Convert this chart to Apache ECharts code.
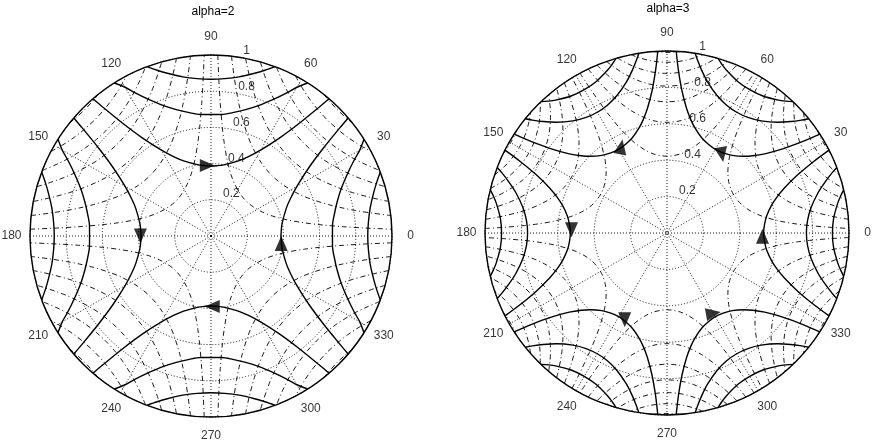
<!DOCTYPE html>
<html>
<head>
<meta charset="utf-8">
<script src="https://cdn.jsdelivr.net/npm/echarts@6/dist/echarts.min.js"></script>
<style>
  html, body { margin: 0; padding: 0; background: #fff; }
  #main { width: 874px; height: 446px; }
</style>
</head>
<body>
<div id="main"></div>
<script>
// polar grid ticks
var angleTicks = [0, 30, 60, 90, 120, 150, 180, 210, 240, 270, 300, 330];
var ringTicks = [0.2, 0.4, 0.6, 0.8, 1];

// alpha=2, solid curves, half branch read from vertex (angle 0) out to the rim: [r, angle]
var a2Solid1 = [[0.387,0],[0.390,5],[0.399,10],[0.442,20],[0.483,25],[0.548,30],[0.662,35],[0.787,38],[0.929,40],[1,40.7]];
var a2Solid2 = [[0.671,0],[0.674,5],[0.692,10],[0.721,15],[0.766,20],[0.837,25],[0.897,28],[0.949,30],[1,32.3]];
var a2Solid3 = [[0.866,0],[0.873,5],[0.893,10],[0.931,15],[0.963,18],[1,20.7]];

// alpha=2, dash-dot curves, half branch from vertex (angle 45) out to the rim
var a2Dash1 = [[0.274,45],[0.276,40],[0.283,35],[0.313,25],[0.357,18],[0.429,12],[0.522,8],[0.601,6],[0.734,4],[0.847,3],[1,2.15]];
var a2Dash2 = [[0.474,45],[0.489,35],[0.542,25],[0.592,20],[0.671,15],[0.744,12],[0.811,10],[0.904,8],[1,6.5]];
var a2Dash3 = [[0.612,45],[0.632,35],[0.658,30],[0.700,25],[0.764,20],[0.819,17],[0.894,14],[0.960,12],[1,11]];
var a2Dash4 = [[0.725,45],[0.747,35],[0.779,30],[0.828,25],[0.869,22],[0.904,20],[0.945,18],[0.969,17],[1,15.8]];
var a2Dash5 = [[0.822,45],[0.828,40],[0.848,35],[0.883,30],[0.902,28],[0.939,25],[0.986,22],[1,21.2]];
var a2Dash6 = [[0.908,45],[0.915,40],[0.931,36],[0.950,33],[0.976,30],[0.998,28],[1,27.8]];
var a2Dash7 = [[0.987,45],[0.990,42],[0.995,40],[1,38.6]];

// alpha=3, solid curves, half branch from vertex (angle 0)
var a3Solid1 = [[0.531,0],[0.538,5],[0.557,10],[0.596,15],[0.634,18],[0.691,21],[0.786,24],[0.897,26],[1,27.1]];
var a3Solid2 = [[0.766,0],[0.775,5],[0.804,10],[0.860,15],[0.915,18],[0.965,20],[1,21.1]];
var a3Solid3 = [[0.909,0],[0.919,5],[0.953,10],[0.975,12],[1,13.8]];

// alpha=3, dash-dot curves, half branch from vertex (angle 30)
var a3Dash1 = [[0.422,30],[0.427,25],[0.442,20],[0.473,15],[0.531,10],[0.624,6],[0.712,4],[0.783,3],[0.895,2],[1,1.43]];
var a3Dash2 = [[0.608,30],[0.615,25],[0.638,20],[0.696,14],[0.766,10],[0.821,8],[0.900,6],[0.954,5],[1,4.33]];
var a3Dash3 = [[0.721,30],[0.729,25],[0.756,20],[0.809,15],[0.861,12],[0.909,10],[0.973,8],[1,7.34]];
var a3Dash4 = [[0.807,30],[0.816,25],[0.846,20],[0.891,16],[0.922,14],[0.963,12],[1,10.56]];
var a3Dash5 = [[0.877,30],[0.887,25],[0.920,20],[0.954,17],[0.985,15],[1,14.15]];
var a3Dash6 = [[0.938,30],[0.942,27],[0.954,24],[0.975,21],[0.995,19],[1,18.53]];
var a3Dash7 = [[0.992,30],[0.996,27],[1,25.72]];

// direction arrows: [r, angle, rotation of the triangle]
var a2Arrows = [[0.39,93,-90],[0.39,-6,0],[0.39,180,180],[0.39,271,90]];
var a3Arrows = [[0.525,-2,0],[0.526,55,190],[0.536,118,-10],[0.525,178,180],[0.53,244,180],[0.51,300,-80]];

var FONT = 'Liberation Sans';

// whole branch = half mirrored about its vertex angle m, then turned by rot
function branch(half, m, rot) {
    var back = half.slice().reverse().map(function (p) { return [p[0], 2 * m - p[1] + rot]; });
    var fwd = half.slice(1).map(function (p) { return [p[0], p[1] + rot]; });
    return back.concat(fwd);
}

var series = [];
function addFamily(polarIndex, halves, m, step, count, dashed) {
    halves.forEach(function (h) {
        for (var k = 0; k < count; k++) {
            series.push({
                type: 'line',
                coordinateSystem: 'polar',
                polarIndex: polarIndex,
                data: branch(h, m, k * step),
                showSymbol: false,
                smooth: 0.3,
                silent: true,
                z: dashed ? 3 : 4,
                lineStyle: dashed
                    ? { color: '#000', width: 0.9, type: [5, 3, 1, 3] }
                    : { color: '#000', width: 1.4 }
            });
        }
    });
}
addFamily(0, [a2Dash1, a2Dash2, a2Dash3, a2Dash4, a2Dash5, a2Dash6, a2Dash7], 45, 90, 4, true);
addFamily(0, [a2Solid1, a2Solid2, a2Solid3], 0, 90, 4, false);
addFamily(1, [a3Dash1, a3Dash2, a3Dash3, a3Dash4, a3Dash5, a3Dash6, a3Dash7], 30, 60, 6, true);
addFamily(1, [a3Solid1, a3Solid2, a3Solid3], 0, 60, 6, false);

[a2Arrows, a3Arrows].forEach(function (arr, i) {
    series.push({
        type: 'scatter',
        coordinateSystem: 'polar',
        polarIndex: i,
        symbol: 'triangle',
        symbolSize: [13, 15],
        itemStyle: { color: '#000' },
        z: 6,
        data: arr.map(function (a) { return { value: [a[0], a[1]], symbolRotate: a[2] }; })
    });
    // ring labels, at 82 degrees as the polar plot puts them
    series.push({
        type: 'scatter',
        coordinateSystem: 'polar',
        polarIndex: i,
        symbolSize: 0,
        z: 7,
        data: ringTicks.map(function (r) { return [r, 82]; }),
        label: {
            show: true,
            position: 'right',
            distance: 7,
            offset: [0, -6],
            color: '#000',
            fontSize: 12,
            fontFamily: FONT,
            formatter: function (p) { return String(p.value[0]); }
        }
    });
    // angle labels, centred a tenth of the radius outside the rim
    series.push({
        type: 'scatter',
        coordinateSystem: 'polar',
        polarIndex: i,
        symbolSize: 0,
        z: 7,
        data: angleTicks.map(function (t) {
            var a = t * Math.PI / 180;
            return {
                value: [1, t],
                label: { offset: [18.5 * Math.cos(a), -18.5 * Math.sin(a)] }
            };
        }),
        label: {
            show: true,
            position: 'inside',
            color: '#000',
            fontSize: 12,
            fontFamily: FONT,
            formatter: function (p) { return String(p.value[1]); }
        }
    });
});

function angleAxis(i) {
    return {
        polarIndex: i,
        type: 'value',
        min: 0, max: 360, interval: 30,
        startAngle: 0,
        clockwise: false,
        axisLine: { lineStyle: { color: '#000', width: 1.4 } },
        axisTick: { show: false },
        axisLabel: { show: false },
        splitLine: { show: true, lineStyle: { color: '#000', width: 0.9, type: [1, 2] } }
    };
}
function radiusAxis(i) {
    return {
        polarIndex: i,
        type: 'value',
        min: 0, max: 1, interval: 0.2,
        axisLine: { show: false },
        axisTick: { show: false },
        axisLabel: { show: false },
        splitLine: { show: true, lineStyle: { color: '#000', width: 0.9, type: [1, 2] } }
    };
}

var myChart = echarts.init(document.getElementById('main'));
option = {
    backgroundColor: '#fff',
    animation: false,
    title: [
        { text: 'alpha=2', left: 213, top: 6, padding: 0, textAlign: 'center',
          textStyle: { fontSize: 12, fontWeight: 'normal', color: '#000', fontFamily: FONT } },
        { text: 'alpha=3', left: 668, top: 3, padding: 0, textAlign: 'center',
          textStyle: { fontSize: 12, fontWeight: 'normal', color: '#000', fontFamily: FONT } }
    ],
    polar: [
        { center: [211, 236], radius: 181 },
        { center: [667, 233], radius: 182 }
    ],
    angleAxis: [angleAxis(0), angleAxis(1)],
    radiusAxis: [radiusAxis(0), radiusAxis(1)],
    series: series
};
myChart.setOption(option);
</script>
</body>
</html>
